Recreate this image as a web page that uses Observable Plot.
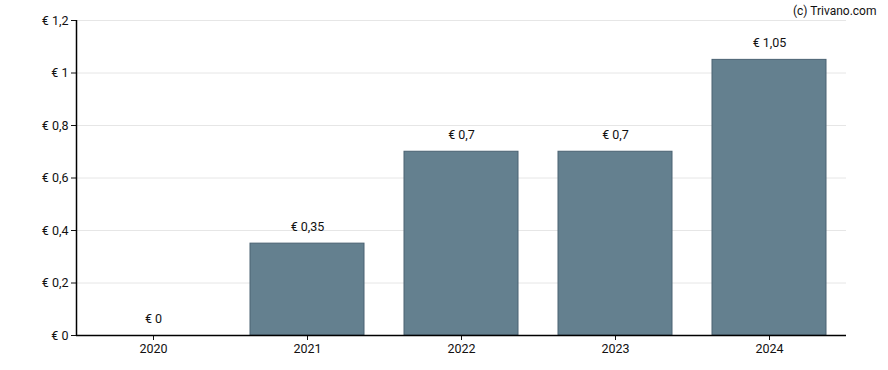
<!DOCTYPE html>
<html>
<head>
<meta charset="utf-8">
<script src="https://cdn.jsdelivr.net/npm/d3@7"></script>
<script src="https://cdn.jsdelivr.net/npm/@observablehq/plot@0.6"></script>
<style>
  body { margin: 0; background: #fff; }
  svg { font-family: Roboto, "Noto Sans", sans-serif; }
</style>
</head>
<body>
<div id="chart"></div>
<script>
const years = ["2020", "2021", "2022", "2023", "2024"];
const dividends = [0, 0.35, 0.7, 0.7, 1.05];
const yTicks = [0, 0.2, 0.4, 0.6, 0.8, 1, 1.2];
const credit = "(c) Trivano.com";

const data = years.map((y, i) => ({year: y, value: dividends[i]}));
const fmt = v => "€ " + String(+v.toFixed(2)).replace(".", ",");

const chart = Plot.plot({
  width: 888,
  height: 370,
  marginLeft: 76,
  marginRight: 42,
  marginTop: 20,
  marginBottom: 35,
  style: {fontSize: "12.5px", fontFamily: "Roboto, 'Noto Sans', sans-serif", color: "#111"},
  x: {domain: years, paddingInner: 0.26, paddingOuter: 0.13, label: null, tickSize: 5, tickPadding: 4},
  y: {domain: [0, 1.2], ticks: yTicks, tickFormat: fmt, label: null, tickSize: 5, tickPadding: 3},
  marks: [
    Plot.gridY(yTicks, {stroke: "#e6e6e6", strokeOpacity: 1}),
    Plot.barY(data, {x: "year", y: "value", fill: "#64808f", stroke: "#4a6272", strokeWidth: 1}),
    Plot.text(data, {x: "year", y: "value", text: d => fmt(d.value), dy: -17, fontSize: 12.5, fill: "#111"}),
    Plot.ruleY([0], {stroke: "#000", strokeWidth: 1.5}),
    Plot.ruleX([0], {x: () => years[0], dx: -77, stroke: "#000", strokeWidth: 1.5}),
    Plot.text([credit], {frameAnchor: "top-right", dx: 30, dy: -14, fontSize: 12, fill: "#111", textAnchor: "end"})
  ]
});
document.getElementById("chart").appendChild(chart);
</script>
</body>
</html>
